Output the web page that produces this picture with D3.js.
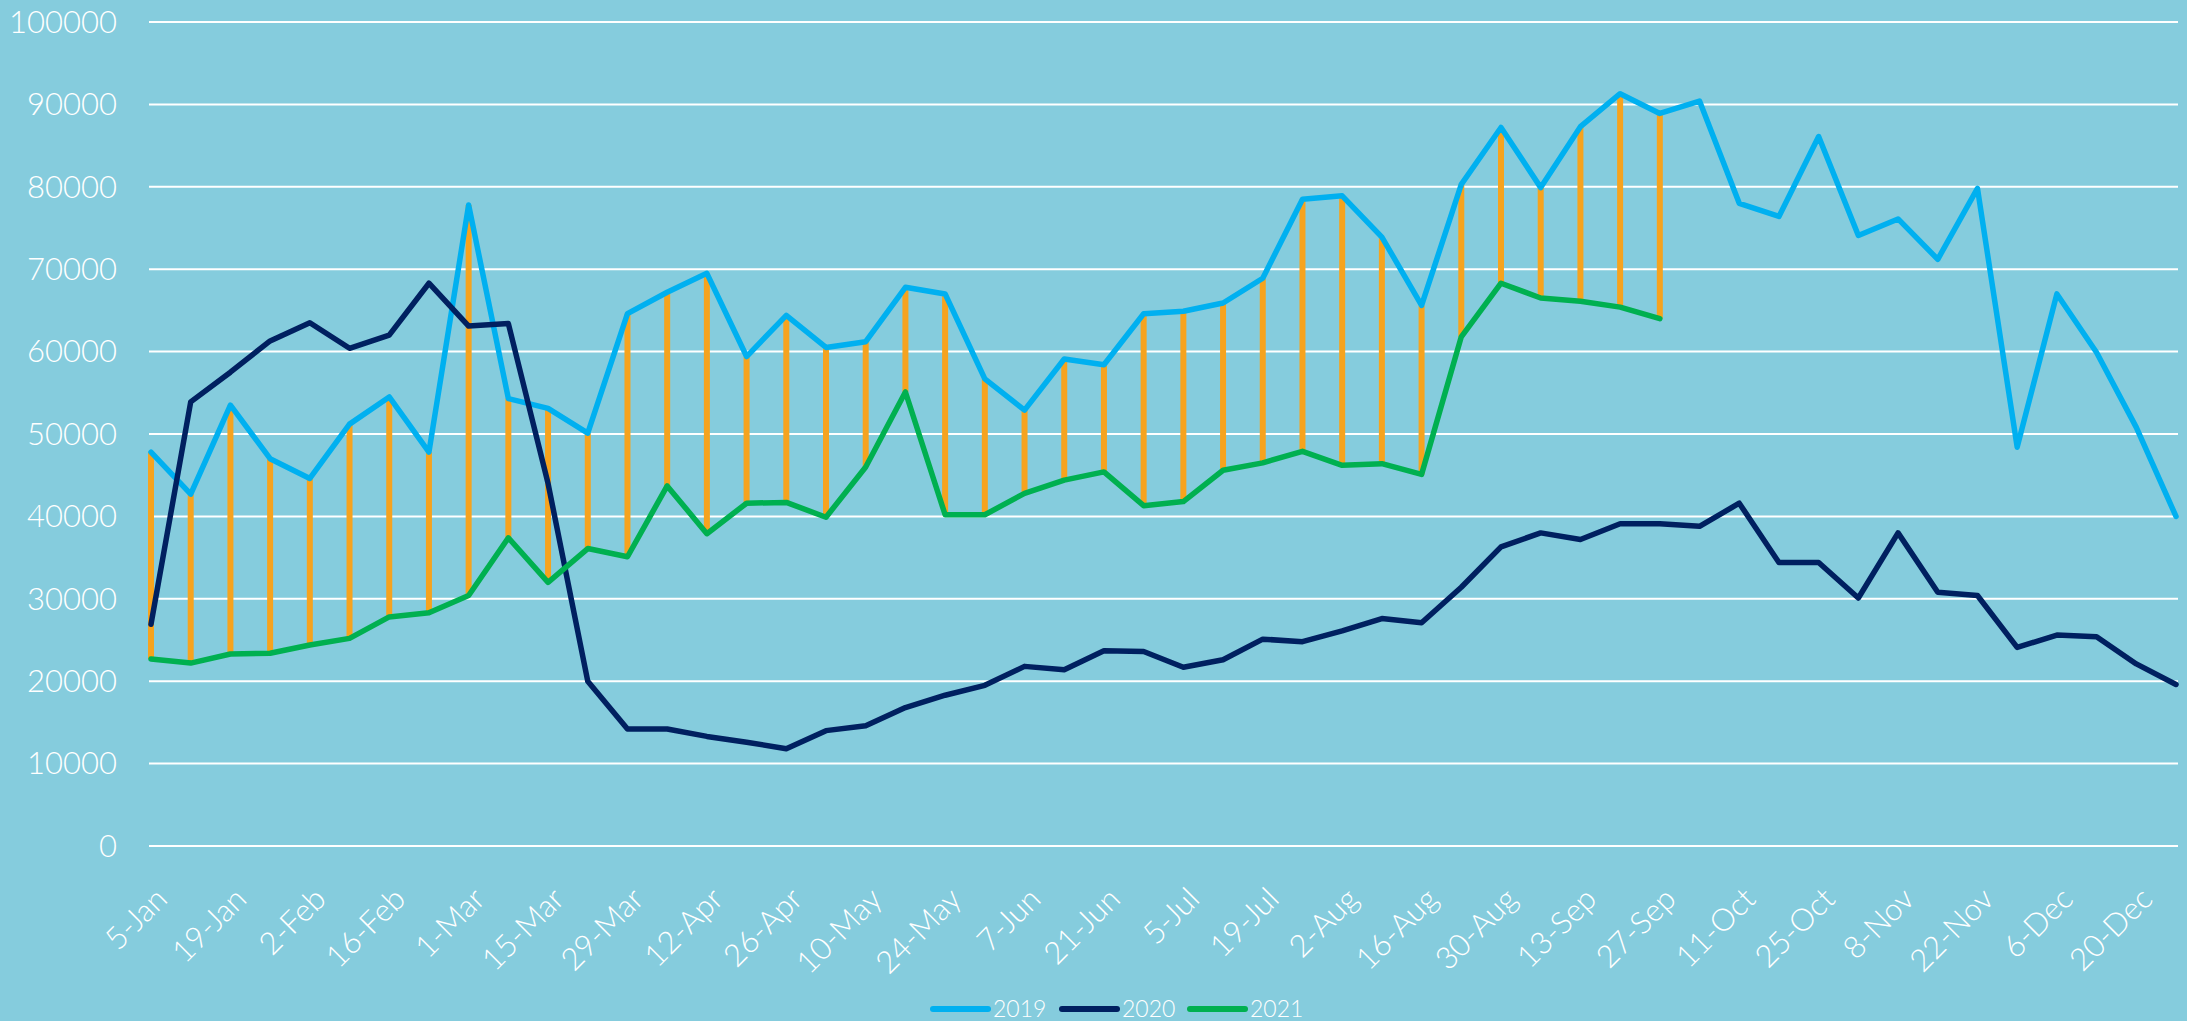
<!DOCTYPE html>
<html>
<head>
<meta charset="utf-8">
<script src="https://cdn.jsdelivr.net/npm/d3@7"></script>
<style>
    body { margin: 0; background: #85ccdd; }
    svg text { font-family: Lato, "Open Sans", sans-serif; font-weight: 300; fill: #ffffff; }
</style>
</head>
<body>
<svg id="svg_weekly" width="2187" height="1021"></svg>
<script>
// Weekly numbers 2019 / 2020 / 2021

let weeks = ["5-Jan", "12-Jan", "19-Jan", "26-Jan", "2-Feb", "9-Feb", "16-Feb", "23-Feb",
    "1-Mar", "8-Mar", "15-Mar", "22-Mar", "29-Mar", "5-Apr", "12-Apr", "19-Apr", "26-Apr",
    "3-May", "10-May", "17-May", "24-May", "31-May", "7-Jun", "14-Jun", "21-Jun", "28-Jun",
    "5-Jul", "12-Jul", "19-Jul", "26-Jul", "2-Aug", "9-Aug", "16-Aug", "23-Aug", "30-Aug",
    "6-Sep", "13-Sep", "20-Sep", "27-Sep", "4-Oct", "11-Oct", "18-Oct", "25-Oct", "1-Nov",
    "8-Nov", "15-Nov", "22-Nov", "29-Nov", "6-Dec", "13-Dec", "20-Dec", "27-Dec"];

// only every second week gets a label
let tickLabels = ["5-Jan", "19-Jan", "2-Feb", "16-Feb", "1-Mar", "15-Mar", "29-Mar", "12-Apr",
    "26-Apr", "10-May", "24-May", "7-Jun", "21-Jun", "5-Jul", "19-Jul", "2-Aug", "16-Aug",
    "30-Aug", "13-Sep", "27-Sep", "11-Oct", "25-Oct", "8-Nov", "22-Nov", "6-Dec", "20-Dec"];

let yTicks = [0, 10000, 20000, 30000, 40000, 50000, 60000, 70000, 80000, 90000, 100000];

let values2019 = [47800, 42700, 53500, 47000, 44600, 51200, 54500, 47800, 77800, 54300, 53100,
    50100, 64600, 67200, 69500, 59400, 64400, 60500, 61200, 67800, 67000, 56700, 52900, 59100,
    58400, 64600, 64900, 65900, 68900, 78500, 78900, 73900, 65600, 80300, 87200, 79900, 87300,
    91300, 88900, 90400, 78000, 76400, 86100, 74100, 76100, 71200, 79800, 48400, 67000, 59900,
    50800, 40000];

let values2020 = [26900, 53900, 57500, 61300, 63500, 60400, 62000, 68300, 63100, 63400, 44000,
    20000, 14200, 14200, 13300, 12600, 11800, 14000, 14600, 16800, 18300, 19500, 21800, 21400,
    23700, 23600, 21700, 22600, 25100, 24800, 26100, 27600, 27100, 31400, 36300, 38000, 37200,
    39100, 39100, 38800, 41600, 34400, 34400, 30100, 38000, 30800, 30400, 24100, 25600, 25400,
    22100, 19600];

let values2021 = [22700, 22200, 23300, 23400, 24400, 25200, 27800, 28300, 30400, 37400, 32000,
    36100, 35100, 43700, 37900, 41600, 41700, 39900, 46000, 55100, 40200, 40200, 42800, 44400,
    45400, 41300, 41800, 45600, 46500, 47900, 46200, 46400, 45100, 61800, 68300, 66500, 66100,
    65400, 64000];

let seriesNames = ["2019", "2020", "2021"];
let seriesColors = ["#00b0f0", "#002060", "#00b050"];

let padding = { top: 22, right: 11, bottom: 175, left: 151 };
let svg = d3.select("#svg_weekly");
let width = +svg.attr("width");
let height = +svg.attr("height");

let xScale = d3.scalePoint()
    .domain(weeks)
    .range([padding.left, width - padding.right]);

let yScale = d3.scaleLinear()
    .domain([0, 100000])
    .range([height - padding.bottom, padding.top]);

// background
svg.append("rect")
    .attr("width", width)
    .attr("height", height)
    .attr("fill", "#85ccdd");

// Draw gridlines + y labels
let grid = svg.append("g").attr("id", "y-axis");
grid.selectAll("line")
    .data(yTicks)
    .join("line")
    .attr("x1", padding.left - 2)
    .attr("x2", width - padding.right + 2)
    .attr("y1", d => yScale(d))
    .attr("y2", d => yScale(d))
    .attr("stroke", "#ffffff")
    .attr("stroke-width", 2);

grid.selectAll("text")
    .data(yTicks)
    .join("text")
    .attr("x", 117)
    .attr("y", d => yScale(d))
    .attr("dy", "0.35em")
    .attr("text-anchor", "end")
    .attr("font-size", 31)
    .text(d => d);

// x labels, rotated
svg.append("g")
    .attr("id", "x-axis")
    .selectAll("text")
    .data(tickLabels)
    .join("text")
    .attr("text-anchor", "end")
    .attr("font-size", 31)
    .attr("transform", d => "translate(" + (xScale(d) + 18) + "," + (yScale(0) + 55) + ") rotate(-45)")
    .text(d => d);

// orange high-low bars between 2019 and 2021
svg.append("g")
    .attr("id", "bars")
    .selectAll("line")
    .data(values2021)
    .join("line")
    .attr("x1", (d, i) => xScale(weeks[i]))
    .attr("x2", (d, i) => xScale(weeks[i]))
    .attr("y1", (d, i) => yScale(values2019[i]))
    .attr("y2", d => yScale(d))
    .attr("stroke", "#f6a31e")
    .attr("stroke-width", 6);

// the three lines
let line = d3.line()
    .x((d, i) => xScale(weeks[i]))
    .y(d => yScale(d));

let allSeries = [values2019, values2020, values2021];
svg.append("g")
    .attr("id", "lines")
    .selectAll("path")
    .data(allSeries)
    .join("path")
    .attr("d", d => line(d))
    .attr("fill", "none")
    .attr("stroke", (d, i) => seriesColors[i])
    .attr("stroke-width", 5.5)
    .attr("stroke-linejoin", "round")
    .attr("stroke-linecap", "round");

// Legend
let legend = svg.append("g").attr("id", "legend");
let legendX = [933, 1062, 1190];
seriesNames.forEach((name, i) => {
    legend.append("line")
        .attr("x1", legendX[i])
        .attr("x2", legendX[i] + 55)
        .attr("y1", 1009)
        .attr("y2", 1009)
        .attr("stroke", seriesColors[i])
        .attr("stroke-width", 6)
        .attr("stroke-linecap", "round");
    legend.append("text")
        .attr("x", legendX[i] + 60)
        .attr("y", 1017)
        .attr("font-size", 23)
        .attr("font-weight", 400)
        .text(name);
});
</script>
</body>
</html>
